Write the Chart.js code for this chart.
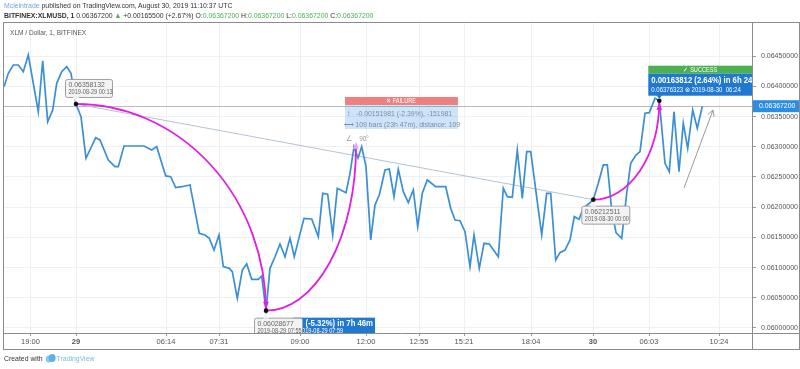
<!DOCTYPE html>
<html><head><meta charset="utf-8">
<script src="https://cdn.jsdelivr.net/npm/chart.js@4.4.0/dist/chart.umd.min.js"></script>
<style>
html,body{margin:0;padding:0;background:#fff;}
#wrap{position:relative;width:800px;height:369px;overflow:hidden;font-family:'Liberation Sans',sans-serif;}
#c{position:absolute;left:0;top:0;}
.t{position:absolute;white-space:nowrap;font-size:8px;line-height:10px;color:#333;transform:scaleX(0.86);transform-origin:0 0;}
.g{color:#4caf50;}
</style></head><body>
<div id="wrap">
<canvas id="c" width="800" height="369"></canvas>
<div class="t" style="left:4px;top:1px;"><span style="color:#6ea6d8">Mcleintrade</span> published on TradingView.com, August 30, 2019 11:10:37 UTC</div>
<div class="t" style="left:4px;top:11px;"><b>BITFINEX:XLMUSD, 1</b> 0.06367200 <span class="g">▲</span> +0.00165500 (+2.67%) O:<span class="g">0.06367200</span> H:<span class="g">0.06367200</span> L:<span class="g">0.06367200</span> C:<span class="g">0.06367200</span></div>
<div class="t" style="left:10px;top:28px;color:#555;transform:scaleX(0.82)">XLM / Dollar, 1, BITFINEX</div>
<div class="t" style="left:4px;top:353px;color:#333">Created with <svg width="14" height="10" viewBox="0 0 14 10" style="vertical-align:-2px"><circle cx="5" cy="6" r="3.5" fill="#8cc6ec"/><circle cx="9" cy="5" r="4" fill="#5fb0e6"/></svg><span style="color:#7ab8e6">TradingView</span></div>
</div>
<script>
// ---- data ----
const barPos = [0,4.3,9.3,14.3,19.3,24.3,34.3,38.7,43.7,48.7,52.7,57.7,62.7,67,72,77,82,91.7,96,104.3,111,114.3,120,140,147.7,152.7,161.7,166.7,171.7,177.7,186,195.3,201,205.3,210,215,219.3,225.3,228.3,233.3,238.3,242.7,247.7,254.3,257.7,262,266,271,276,281,286,290.3,295.3,300,307.7,314.3,318.7,323.7,328.7,333.3,342,346,350,354,357.7,362,366.7,371,375.3,381,385.3,390,394.3,399.3,404.3,409.3,413.7,418.3,423.3,431.7,441.7,446.7,451,456,461,466,470,475.3,480,485.3,494.3,499.3,503.3,508.3,513.3,518.3,522.7,526.7,537.7,542.7,546.7,551.7,556,561,566,570.3,575,579.3,585.3,589.3,594.3,599.3,603.3,607.7,612,617.7,622.7,626.7,632,636,641,645.3,651,655.3,661,665.3,670,675,679.3,683.7,688.7,693.3,698.3];
const closePrice = [0.063995,0.064217,0.064354,0.064354,0.064243,0.064520,0.063581,0.064425,0.063416,0.063609,0.064051,0.064243,0.064326,0.064217,0.063709,0.063498,0.062810,0.063151,0.063113,0.062781,0.062671,0.062671,0.063013,0.063013,0.062947,0.063002,0.062517,0.062505,0.062323,0.062339,0.062368,0.061568,0.061540,0.061485,0.061291,0.061540,0.061015,0.060988,0.060932,0.060492,0.060960,0.061060,0.060806,0.060806,0.060861,0.060287,0.060988,0.061180,0.061391,0.061180,0.061485,0.061180,0.061512,0.061816,0.061805,0.061512,0.062230,0.062214,0.061540,0.062313,0.062240,0.062561,0.062997,0.062815,0.063002,0.062671,0.061457,0.062036,0.062202,0.062616,0.062632,0.062174,0.062627,0.062257,0.062075,0.062285,0.061677,0.062230,0.062450,0.062339,0.062339,0.061982,0.061788,0.061776,0.061594,0.061015,0.061540,0.060988,0.061402,0.061391,0.061180,0.062313,0.062174,0.062164,0.062947,0.062147,0.062919,0.062919,0.061540,0.062230,0.062230,0.061126,0.061247,0.061291,0.061457,0.061843,0.061800,0.061982,0.062065,0.062125,0.062396,0.062699,0.062699,0.061954,0.061578,0.061485,0.062230,0.062727,0.062864,0.062919,0.063555,0.063565,0.063803,0.063763,0.062727,0.062588,0.063581,0.062588,0.063389,0.062975,0.063609,0.063306,0.063672];
const tickPos = [26.5,72,162,215,296,362,415,460,527,589,645,715];
const tickLabels = ['19:00','29','06:14','07:31','09:00','12:00','12:55','15:21','18:04','30','06:03','10:24'];
const yTicks = [0.0600,0.0605,0.0610,0.0615,0.0620,0.0625,0.0630,0.0635,0.0640,0.0645];
const lastPrice = 0.063672;
// drawing anchors (data units)
const markPos = [72, 262, 589.3, 655.3];
const markPrice = [0.063709, 0.060287, 0.062125, 0.063763];
const markText = ['0.06358132','0.06028677','0.06212511'];
const markDate = ['2019-08-29 00:13','2019-08-29 07:55','2019-08-30 00:00'];
const failPeak = [352, 0.062997];
const arrowPos = [680, 709];
const arrowPrice = [0.062318, 0.063609];

const FF = "'Liberation Sans',sans-serif";
const SX = 0.86;

function rr(ctx,x,y,w,h,r){ctx.beginPath();ctx.moveTo(x+r,y);ctx.arcTo(x+w,y,x+w,y+h,r);ctx.arcTo(x+w,y+h,x,y+h,r);ctx.arcTo(x,y+h,x,y,r);ctx.arcTo(x,y,x+w,y,r);ctx.closePath();}
function tri(ctx,pts,fill){ctx.beginPath();ctx.moveTo(pts[0],pts[1]);ctx.lineTo(pts[2],pts[3]);ctx.lineTo(pts[4],pts[5]);ctx.closePath();ctx.fillStyle=fill;ctx.fill();}
function ct(ctx,txt,x,y,font,color,align){
  ctx.save(); ctx.translate(x,y); ctx.scale(SX,1);
  ctx.font=font; ctx.fillStyle=color; ctx.textAlign=align||'left'; ctx.textBaseline='middle';
  ctx.fillText(txt,0,0); ctx.restore();
}

const annot = {
  id:'annot',
  beforeDatasetsDraw(chart){
    const {ctx, chartArea:a, scales:{x,y}} = chart;
    ctx.save();
    ctx.beginPath(); ctx.rect(a.left,a.top,a.right-a.left,a.bottom-a.top); ctx.clip();
    const py = Math.round(y.getPixelForValue(lastPrice))+0.5;
    ctx.strokeStyle='#b9b9b9'; ctx.lineWidth=1;
    ctx.beginPath(); ctx.moveTo(a.left,py); ctx.lineTo(a.right,py); ctx.stroke();
    ctx.strokeStyle='#b5c3d1';
    ctx.beginPath();
    ctx.moveTo(x.getPixelForValue(markPos[0]), y.getPixelForValue(markPrice[0]));
    ctx.lineTo(x.getPixelForValue(markPos[2]), y.getPixelForValue(markPrice[2]));
    ctx.stroke();
    ctx.restore();
  },
  afterDatasetsDraw(chart){
    const {ctx, chartArea:a, scales:{x,y}} = chart;
    const P = i => ({x:x.getPixelForValue(markPos[i]), y:y.getPixelForValue(markPrice[i])});
    const A=P(0), B=P(1), D=P(2), E=P(3);
    const C={x:x.getPixelForValue(failPeak[0]), y:y.getPixelForValue(failPeak[1])};
    ctx.save();
    ctx.beginPath(); ctx.rect(a.left,a.top,a.right-a.left,a.bottom-a.top); ctx.clip();
    // grey arrow
    const g0={x:x.getPixelForValue(arrowPos[0]),y:y.getPixelForValue(arrowPrice[0])};
    const g1={x:x.getPixelForValue(arrowPos[1]),y:y.getPixelForValue(arrowPrice[1])};
    ctx.strokeStyle='#9a9a9a'; ctx.lineWidth=1;
    ctx.beginPath(); ctx.moveTo(g0.x,g0.y); ctx.lineTo(g1.x,g1.y); ctx.stroke();
    const ang=Math.atan2(g1.y-g0.y,g1.x-g0.x);
    ctx.beginPath();
    ctx.moveTo(g1.x-7*Math.cos(ang-0.5),g1.y-7*Math.sin(ang-0.5));
    ctx.lineTo(g1.x,g1.y);
    ctx.lineTo(g1.x-7*Math.cos(ang+0.5),g1.y-7*Math.sin(ang+0.5));
    ctx.stroke();
    // magenta arcs
    ctx.strokeStyle='#e01fe0'; ctx.lineWidth=1.8;
    ctx.beginPath(); ctx.ellipse(A.x,B.y,B.x-A.x,B.y-A.y,0,-Math.PI/2,0); ctx.stroke();
    ctx.beginPath(); ctx.ellipse(B.x,C.y,C.x-B.x,B.y-C.y,0,0,Math.PI/2); ctx.stroke();
    ctx.beginPath(); ctx.ellipse(D.x,E.y,E.x-D.x,D.y-E.y,0,0,Math.PI/2); ctx.stroke();
    tri(ctx,[B.x-3,B.y-9,B.x+3,B.y-9,B.x,B.y-3],'#e01fe0');
    tri(ctx,[E.x-3,E.y+9,E.x+3,E.y+9,E.x,E.y+3],'#e01fe0');
    tri(ctx,[C.x-3,C.y+2,C.x+3,C.y+2,C.x,C.y-5],'#f0a0f0');
    // markers
    ctx.fillStyle='#111';
    [A,B,D,E].forEach(p=>{ctx.beginPath();ctx.arc(p.x,p.y,2.3,0,Math.PI*2);ctx.fill();});
    const greyBox=(bx,by,w,h,t1,t2,px,py,up)=>{
      rr(ctx,bx,by,w,h,2); ctx.fillStyle='#f3f3f3'; ctx.fill(); ctx.strokeStyle='#a0a0a0'; ctx.lineWidth=1; ctx.stroke();
      if(up){tri(ctx,[px-3,by+0.5,px+3,by+0.5,px,py+2],'#f3f3f3');}
      else {tri(ctx,[px-3,by+h-0.5,px+3,by+h-0.5,px,py-2],'#f3f3f3');}
      ct(ctx,t1,bx+3,by+5.5,'8px '+FF,'#666');
      ct(ctx,t2,bx+3,by+13,'6.5px '+FF,'#666');
    };
    greyBox(A.x-10.5,A.y-24.5,47,18,markText[0],markDate[0],A.x,A.y,false);
    // low: blue box then grey
    ctx.fillStyle='#1f78d1'; ctx.fillRect(B.x+27,B.y+7,82,20);
    ct(ctx,'-0.0032 (-5.32%) in 7h 46m',B.x+107,B.y+13,'bold 9px '+FF,'#fff','right');
    ct(ctx,'2019-08-29 07:59',B.x+33,B.y+21,'6.5px '+FF,'#fff');
    greyBox(B.x-11.5,B.y+7.5,48,20,markText[1],markDate[1],B.x,B.y,true);
    greyBox(D.x-11.5,D.y+6.5,48,18,markText[2],markDate[2],D.x,D.y,true);
    // FAILURE
    const fx=C.x-11, fy=C.y-50;
    ctx.fillStyle='#ef8080'; ctx.fillRect(fx,fy,113,8);
    ctx.fillStyle='rgba(60,150,230,0.25)'; ctx.fillRect(fx,fy+8,113,24);
    ct(ctx,'✕ FAILURE',fx+56,fy+4.5,'6.5px '+FF,'#fff','center');
    ct(ctx,'↕   -0.00151981 (-2.39%), -151981',fx+2,fy+17,'8px '+FF,'#7d8ca4');
    ct(ctx,'⟷ 109 bars (23h 47m), distance: 109',fx-1,fy+28,'8px '+FF,'#7d8ca4');
    ct(ctx,'∠    90°',fx+1,fy+42,'7.5px '+FF,'#999');
    // SUCCESS
    const sx=E.x-11, sy=E.y-35;
    ctx.fillStyle='#4caf50'; ctx.fillRect(sx,sy,105,8);
    ctx.fillStyle='#1f78d1'; ctx.fillRect(sx,sy+8,105,22);
    tri(ctx,[E.x-3,sy+29.5,E.x+3,sy+29.5,E.x,E.y-2],'#1f78d1');
    ct(ctx,'✓ SUCCESS',sx+52,sy+4.5,'6.5px '+FF,'#fff','center');
    ct(ctx,'0.00163812 (2.64%) in 6h 24m',sx+3,sy+15,'bold 9px '+FF,'#fff');
    ct(ctx,'0.06376323 ⊗ 2019-08-30  06:24',sx+3,sy+24,'7px '+FF,'#fff');
    ctx.restore();
  },
  afterDraw(chart){
    const {ctx, chartArea:a, scales:{y}} = chart;
    ctx.save();
    const py = y.getPixelForValue(lastPrice);
    ctx.fillStyle='#2d8de0'; ctx.fillRect(a.right+1,py-6,47,12);
    ct(ctx,lastPrice.toFixed(8),a.right+7,py,'8px '+FF,'#fff');
    ctx.strokeStyle='#8c8c8c'; ctx.lineWidth=1;
    ctx.strokeRect(3.5,22.5,796,327);
    ctx.beginPath();
    ctx.moveTo(Math.round(a.right)+0.5,22); ctx.lineTo(Math.round(a.right)+0.5,350);
    ctx.moveTo(3,Math.round(a.bottom)+0.5); ctx.lineTo(800,Math.round(a.bottom)+0.5);
    ctx.stroke();
    ctx.restore();
  }
};

new Chart(document.getElementById('c'), {
  type:'line',
  data:{datasets:[{
    data: barPos.map((v,i)=>({x:v, y:closePrice[i]})),
    borderColor:'#3a8fd6', borderWidth:1.7, pointRadius:0, tension:0, fill:false
  }]},
  options:{
    responsive:false, animation:false, devicePixelRatio:1,
    layout:{padding:{left:4, top:22, right:0, bottom:20}},
    plugins:{legend:{display:false}, tooltip:{enabled:false}},
    scales:{
      x:{type:'linear', min:0, max:748,
        afterBuildTicks:s=>{s.ticks = tickPos.map(v=>({value:v}));},
        afterFit:s=>{s.height=16;},
        border:{display:false},
        grid:{color:'#eef0f3', tickLength:3, tickColor:'#999'},
        ticks:{autoSkip:false, maxRotation:0, padding:1, color:'#555',
          callback:(v,i)=>tickLabels[i],
          font:c=>({family:FF, size:7.5, weight:(tickLabels[c.index]==='29'||tickLabels[c.index]==='30')?'bold':'normal'})}
      },
      y:{position:'right', min:0.059917, max:0.065066,
        afterBuildTicks:s=>{s.ticks = yTicks.map(v=>({value:v}));},
        afterFit:s=>{s.width=48;},
        border:{display:false},
        grid:{color:'#eef0f3', tickLength:4, tickColor:'#999'},
        ticks:{padding:5, color:'#555', font:{family:FF, size:7}, callback:v=>v.toFixed(8)}
      }
    }
  },
  plugins:[annot]
});
</script>
</body></html>
